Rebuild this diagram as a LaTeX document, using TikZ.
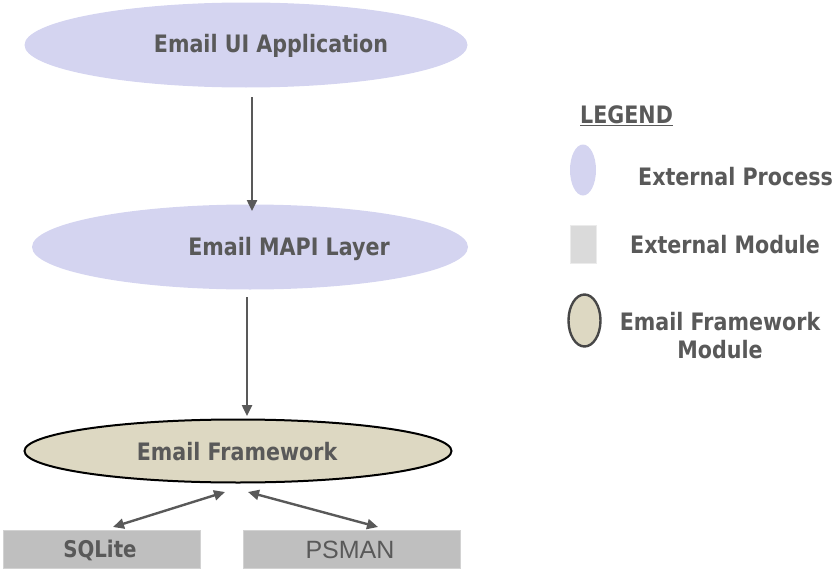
\documentclass[tikz,border=0pt]{standalone}
\usepackage{fontspec}
\setmainfont{DejaVu Sans}[FakeStretch=0.86]
\newfontfamily\arialfont{Liberation Sans}
\usetikzlibrary{shapes.geometric,arrows.meta}
\definecolor{txt}{HTML}{595959}
\definecolor{lav}{HTML}{D4D4F0}
\definecolor{tan}{HTML}{DDD8C2}
\definecolor{boxgray}{HTML}{BFBFBF}
\definecolor{lgray}{HTML}{DADADA}
\tikzset{
  proc/.style={ellipse, fill=lav, draw=none, inner sep=0pt},
  fw/.style={ellipse, fill=tan, draw=black, line width=2pt, inner sep=0pt},
  modbox/.style={rectangle, fill=boxgray, draw=boxgray!70!white, line width=0.8pt, inner sep=0pt},
  lbl/.style={text=txt, font=\fontsize{24}{28}\selectfont\bfseries, inner sep=0pt},
  arr/.style={draw=txt, line width=2.4pt, -{Triangle[length=11pt,width=10pt]}},
  darr/.style={draw=txt, line width=2.4pt, {Triangle[length=11pt,width=10pt]}-{Triangle[length=11pt,width=10pt]}}
}
\begin{document}
\begin{tikzpicture}[x=1pt,y=-1pt]
\useasboundingbox (0,0) rectangle (836,570);
% main nodes
\node[proc, minimum width=443pt, minimum height=85pt] (ui) at (246,45) {};
\node[lbl] (uit) at (271,46) {Email UI Application};
\node[proc, minimum width=436pt, minimum height=85pt] (mapi) at (250,247) {};
\node[lbl] (mapit) at (289,249) {Email MAPI Layer};
\node[fw, minimum width=427pt, minimum height=63pt] (fw) at (238,451) {};
\node[lbl] (fwt) at (237,452) {Email Framework};
\node[modbox, minimum width=197pt, minimum height=38pt] (sql) at (101.5,549) {};
\node[lbl, font=\fontsize{23}{27}\selectfont\bfseries] (sqlt) at (100,550) {SQLite};
\node[modbox, minimum width=217pt, minimum height=38pt] (ps) at (351.5,549) {};
\node[text=txt, inner sep=0pt, font=\fontsize{25}{30}\selectfont\arialfont] (pst) at (350,550) {PSMAN};
% connectors
\coordinate (a1s) at (252,97);
\coordinate (a1e) at (252,211);
\draw[arr] (a1s) -- (a1e);
\coordinate (a2s) at (247,297);
\coordinate (a2e) at (247,416);
\draw[arr] (a2s) -- (a2e);
\coordinate (l1) at (113,527);
\coordinate (l2) at (225,492);
\draw[darr] (l1) -- (l2);
\coordinate (r1) at (248,492);
\coordinate (r2) at (378,527);
\draw[darr] (r1) -- (r2);
% legend
\node[lbl, anchor=west] (leg) at (580,116) {\underline{LEGEND}};
\node[proc, minimum width=26pt, minimum height=51pt] (lp) at (583,170) {};
\node[lbl, anchor=west] (lpt) at (638,177) {External Process};
\node[rectangle, fill=lgray, draw=white!92!black, line width=0.8pt, minimum width=26pt, minimum height=38pt, inner sep=0pt] (lm) at (583,244) {};
\node[lbl, anchor=west] (lmt) at (630,245) {External Module};
\node[ellipse, fill=tan, draw=txt!80!black, line width=2.4pt, minimum width=32pt, minimum height=52pt, inner sep=0pt] (lf) at (584.5,320.5) {};
\node[lbl, align=center] (lft) at (720,336) {Email Framework\\Module};
\end{tikzpicture}
\end{document}
